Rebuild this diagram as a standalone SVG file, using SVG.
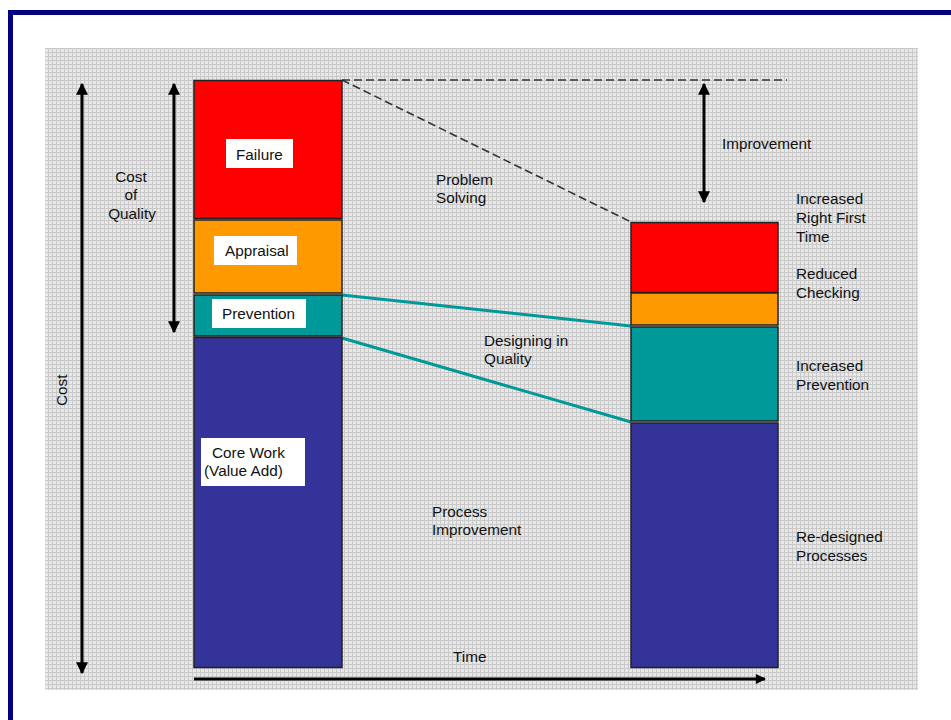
<svg xmlns="http://www.w3.org/2000/svg" width="951" height="720" viewBox="0 0 951 720">
<defs>
<pattern id="grid" width="4" height="4" patternUnits="userSpaceOnUse">
<rect width="4" height="4" fill="#e8e8e8"/>
<path d="M0 0.5H4M0.5 0V4" stroke="#c9c9c9" stroke-width="1"/>
</pattern>
<marker id="ah" viewBox="0 0 10 10" refX="9" refY="5" markerWidth="4" markerHeight="4" orient="auto-start-reverse" markerUnits="strokeWidth">
<path d="M0 0L10 5L0 10Z" fill="#000"/>
</marker>
<marker id="ah2" viewBox="0 0 10 10" refX="9" refY="5" markerWidth="4" markerHeight="3.4" orient="auto" markerUnits="strokeWidth">
<path d="M0 0L10 5L0 10Z" fill="#000"/>
</marker>
</defs>
<style>
text{font-family:"Liberation Sans",Arial,sans-serif;font-size:15.3px;fill:#111}
.bar{stroke:#222;stroke-width:1.5}
.lbl{fill:#fff}
.arr{stroke:#000;stroke-width:3;fill:none}
.teal{stroke:#009999;stroke-width:3;fill:none}
.dash{stroke:#333;stroke-width:1.6;stroke-dasharray:8 4;fill:none}
</style>
<rect x="0" y="0" width="951" height="720" fill="#fff"/>
<path d="M10.5 720V12.5H951" fill="none" stroke="#000080" stroke-width="5"/>
<rect x="45" y="48" width="873" height="642" fill="url(#grid)"/>

<g id="connectors">
<path class="dash" d="M342 80H787"/>
<path class="dash" d="M342 80L631 222"/>
<path class="teal" d="M342 295L631 326"/>
<path class="teal" d="M342 338L631 422"/>
<path class="arr" d="M82 84V673" marker-start="url(#ah)" marker-end="url(#ah)"/>
<path class="arr" d="M174 84V332" marker-start="url(#ah)" marker-end="url(#ah)"/>
<path class="arr" d="M704 84V202" marker-start="url(#ah)" marker-end="url(#ah)"/>
<path class="arr" d="M194 679H765" stroke-width="3.5" marker-end="url(#ah2)"/>
</g>

<g id="failure">
<rect class="bar" x="194" y="80.5" width="148" height="138" fill="#ff0000"/>
<rect class="lbl" x="226" y="139" width="67" height="29"/>
<text x="236" y="160">Failure</text>
</g>
<g id="appraisal">
<rect class="bar" x="194" y="220" width="148" height="73" fill="#ff9900"/>
<rect class="lbl" x="214" y="236" width="83" height="29"/>
<text x="225" y="256">Appraisal</text>
</g>
<g id="prevention">
<rect class="bar" x="194" y="295" width="148" height="41" fill="#009999"/>
<rect class="lbl" x="212" y="299" width="94" height="29"/>
<text x="222" y="319">Prevention</text>
</g>
<g id="core-work">
<rect class="bar" x="194" y="337.5" width="148" height="330" fill="#333399"/>
<rect class="lbl" x="201" y="438" width="104" height="48"/>
<text x="212" y="458">Core Work</text>
<text x="204" y="476">(Value Add)</text>
</g>

<g id="right-failure">
<rect class="bar" x="631" y="222.5" width="147" height="70" fill="#ff0000"/>
</g>
<g id="right-appraisal">
<rect class="bar" x="631" y="293" width="147" height="32" fill="#ff9900"/>
</g>
<g id="right-prevention">
<rect class="bar" x="631" y="327" width="147" height="94" fill="#009999"/>
</g>
<g id="right-core">
<rect class="bar" x="631" y="423" width="147" height="244.5" fill="#333399"/>
</g>

<g id="labels">
<text transform="translate(67 406) rotate(-90)">Cost</text>
<text x="131" y="182" text-anchor="middle">Cost</text>
<text x="131" y="200" text-anchor="middle">of</text>
<text x="132" y="219" text-anchor="middle">Quality</text>
<text x="436" y="185">Problem</text>
<text x="436" y="203">Solving</text>
<text x="722" y="149">Improvement</text>
<text x="796" y="204">Increased</text>
<text x="796" y="223">Right First</text>
<text x="796" y="242">Time</text>
<text x="796" y="279">Reduced</text>
<text x="796" y="298">Checking</text>
<text x="484" y="346">Designing in</text>
<text x="484" y="364">Quality</text>
<text x="796" y="371">Increased</text>
<text x="796" y="390">Prevention</text>
<text x="432" y="517">Process</text>
<text x="432" y="535">Improvement</text>
<text x="796" y="542">Re-designed</text>
<text x="796" y="561">Processes</text>
<text x="453" y="662">Time</text>
</g>
</svg>
